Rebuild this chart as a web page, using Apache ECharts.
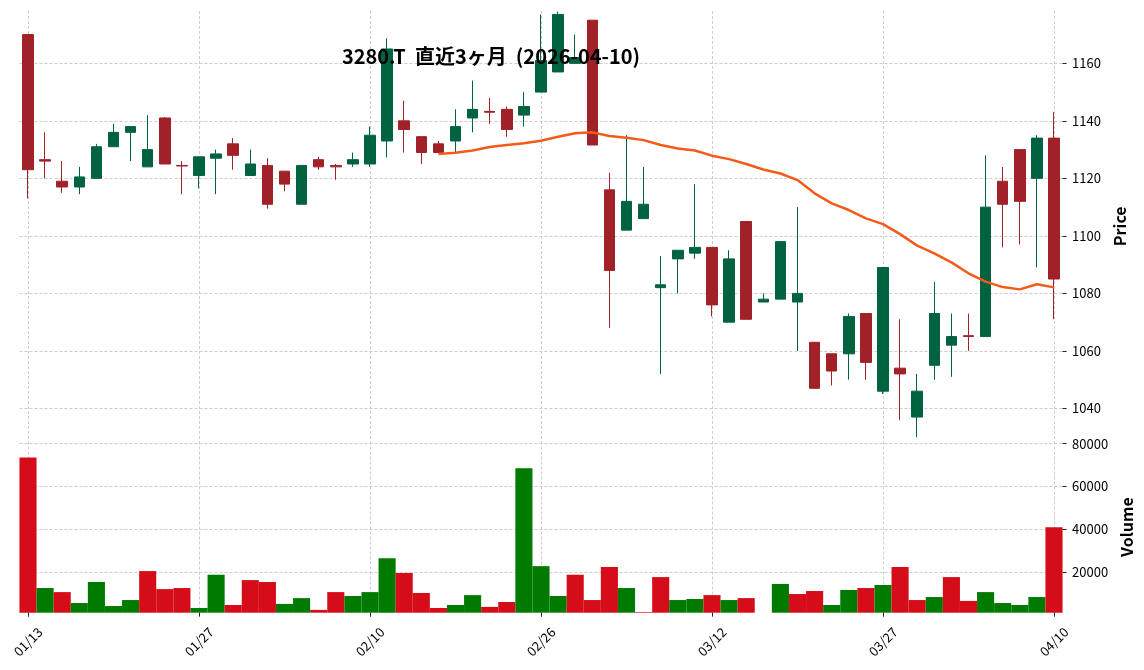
<!DOCTYPE html>
<html>
<head>
<meta charset="utf-8">
<script src="https://cdn.jsdelivr.net/npm/echarts@6/dist/echarts.min.js"></script>
<style>
  html, body { margin: 0; padding: 0; background: #fff; }
  #chart { width: 1144px; height: 670px; }
</style>
</head>
<body>
<div id="chart"></div>
<script>
// 日付（営業日）
const dates = [
  '01/13','01/14','01/15','01/16','01/19','01/20','01/21','01/22','01/23','01/26',
  '01/27','01/28','01/29','01/30','02/02','02/03','02/04','02/05','02/06','02/09',
  '02/10','02/12','02/13','02/16','02/17','02/18','02/19','02/20','02/24','02/25',
  '02/26','02/27','03/02','03/03','03/04','03/05','03/06','03/09','03/10','03/11',
  '03/12','03/13','03/16','03/17','03/18','03/19','03/23','03/24','03/25','03/26',
  '03/27','03/30','03/31','04/01','04/02','04/03','04/06','04/07','04/08','04/09',
  '04/10'
];
const opens = [
  1170, 1126.5, 1119, 1117, 1120, 1131, 1136, 1124, 1141, 1124.5,
  1121, 1127, 1132, 1121, 1124.5, 1122.5, 1111, 1126.5, 1124.5, 1125,
  1125, 1133, 1140, 1134.5, 1132, 1133, 1141, 1143.3, 1144, 1142,
  1150, 1157, 1160, 1175, 1116, 1102, 1106, 1082, 1092, 1094,
  1096, 1070, 1105, 1077, 1078, 1077, 1063, 1059, 1059, 1073,
  1046, 1054, 1037, 1055, 1062, 1065.3, 1065, 1119, 1130, 1120,
  1134
];
const closes = [
  1123, 1126, 1117, 1120.5, 1131, 1136, 1138, 1130, 1125, 1124.3,
  1127.5, 1128.5, 1128, 1125, 1111, 1118, 1124.5, 1124, 1124, 1126.5,
  1135, 1165, 1137, 1129, 1129, 1138, 1144, 1143, 1137, 1145,
  1161, 1177, 1162, 1131.6, 1088, 1112, 1111, 1083, 1095, 1096,
  1076, 1092, 1071, 1078, 1098, 1080, 1047, 1053, 1072, 1056,
  1089, 1052, 1046, 1073, 1065, 1065, 1110, 1111, 1112, 1134,
  1085
];
const lows = [
  1113, 1120, 1115, 1114.5, 1120, 1131, 1126, 1124, 1125, 1114.5,
  1116.5, 1114.5, 1123, 1121, 1109.5, 1115.5, 1111, 1123, 1119.5, 1124,
  1124, 1127.3, 1129, 1125, 1129, 1129, 1136, 1139, 1134.5, 1138,
  1150, 1157, 1160, 1131.6, 1068, 1102, 1106, 1052, 1080, 1092,
  1072, 1070, 1071, 1077, 1078, 1060, 1047, 1048, 1050, 1050,
  1045, 1036, 1030, 1050, 1051, 1060, 1065, 1096, 1097, 1089,
  1071
];
const highs = [
  1170, 1136, 1126, 1124, 1132, 1139, 1138, 1142, 1141.3, 1126,
  1127.5, 1130, 1134, 1130, 1127, 1122.5, 1124.5, 1127.5, 1125, 1129,
  1138, 1168.7, 1147, 1134.5, 1133, 1144, 1154, 1148, 1145, 1150,
  1177, 1178, 1170, 1175, 1122, 1135, 1124, 1093, 1095, 1118,
  1096, 1095, 1105, 1080, 1098, 1110, 1063, 1059, 1073, 1073,
  1089, 1071, 1052, 1084, 1073, 1073, 1128, 1124, 1130, 1135,
  1143
];
// 25日移動平均
const ma25 = [
  null, null, null, null, null, null, null, null, null, null,
  null, null, null, null, null, null, null, null, null, null,
  null, null, null, null, 1128.5, 1128.9, 1129.7, 1130.9, 1131.6, 1132.2,
  1133.1, 1134.5, 1135.7, 1136, 1134.7, 1134.1, 1133.3, 1131.6, 1130.4, 1129.7,
  1127.9, 1126.7, 1125, 1123.1, 1121.7, 1119.4, 1114.8, 1111.3, 1109, 1106.1,
  1104.1, 1100.6, 1096.6, 1093.9, 1090.8, 1087, 1084.1, 1082.2, 1081.4, 1083.2,
  1082.1
];
const volumes = [
  73600, 12700, 10800, 5700, 15500, 4300, 7100, 20600, 12200, 12700,
  3400, 18900, 4800, 16400, 15500, 5300, 8000, 2500, 10800, 9000,
  10800, 26600, 19700, 10400, 3400, 4800, 9400, 3900, 6200, 68500,
  22900, 9000, 18900, 7100, 22500, 12700, 1500, 17800, 7100, 7600,
  9400, 7100, 8000, 1200, 14600, 9900, 11300, 4800, 11800, 12700,
  14100, 22500, 7100, 8500, 17800, 6700, 10800, 5700, 4800, 8500,
  41000
];
const priceTicks = [1040, 1060, 1080, 1100, 1120, 1140, 1160];
const volumeTicks = [20000, 40000, 60000, 80000];

const titleText = '3280.T  直近3ヶ月  (2026-04-10)';
const FONT = '"Noto Sans CJK JP", "Noto Sans", sans-serif';

const UP = '#006340', DOWN = '#a02128';
const VUP = '#007a00', VDOWN = '#d50d18';

const candleData = dates.map((d, i) => [opens[i], closes[i], lows[i], highs[i]]);
// 出来高の色は前日終値との比較
const volumeData = volumes.map((v, i) => {
  const up = i === 0 ? opens[0] < closes[0] : closes[i - 1] < closes[i];
  return { value: v, itemStyle: { color: up ? VUP : VDOWN } };
});

const gridLine = { show: true, lineStyle: { color: '#c0c0c0', width: 0.8, type: [3, 2] } };
const plain = (v) => String(v);

const chart = echarts.init(document.getElementById('chart'));
chart.setOption({
  animation: false,
  backgroundColor: '#fff',
  textStyle: { fontFamily: FONT },
  title: {
    text: titleText,
    left: 486, top: 41, textAlign: 'center',
    textStyle: { fontFamily: FONT, fontSize: 20, fontWeight: 'bold', color: '#000' }
  },
  grid: [
    { left: 19.45, right: 81.45, top: 11, height: 430.5 },
    { left: 19.45, right: 81.45, top: 441.5, height: 171.2 }
  ],
  xAxis: [
    {
      type: 'category', gridIndex: 0, data: dates, boundaryGap: true,
      axisLine: { show: false }, axisTick: { show: false }, axisLabel: { show: false },
      splitLine: Object.assign({ interval: 9, alignWithLabel: true }, gridLine)
    },
    {
      type: 'category', gridIndex: 1, data: dates, boundaryGap: true,
      axisLine: { show: false },
      axisTick: { show: true, interval: 9, alignWithLabel: true, length: 4, lineStyle: { color: '#222' } },
      axisLabel: {
        interval: 9, rotate: 45, align: 'center', verticalAlign: 'middle', margin: 29,
        fontSize: 13, color: '#000', fontFamily: FONT
      },
      splitLine: Object.assign({ interval: 9, alignWithLabel: true }, gridLine)
    }
  ],
  yAxis: [
    {
      type: 'value', gridIndex: 0, position: 'right', min: 1028.5, max: 1178.2,
      axisLine: { show: false },
      axisTick: { show: true, length: 4, customValues: priceTicks, lineStyle: { color: '#222' } },
      axisLabel: { customValues: priceTicks, formatter: plain, margin: 9.5, fontSize: 13, color: '#000', fontFamily: FONT },
      splitLine: gridLine,
      name: 'Price', nameLocation: 'middle', nameGap: 41,
      nameTextStyle: { fontSize: 16, fontWeight: 'bold', color: '#000', fontFamily: FONT }
    },
    {
      type: 'value', gridIndex: 1, position: 'right', min: 1200, max: 81000,
      axisLine: { show: false },
      axisTick: { show: true, length: 4, customValues: volumeTicks, lineStyle: { color: '#222' } },
      axisLabel: { customValues: volumeTicks, formatter: plain, margin: 9.5, fontSize: 13, color: '#000', fontFamily: FONT },
      splitLine: gridLine,
      name: 'Volume', nameLocation: 'middle', nameGap: 46,
      nameTextStyle: { fontSize: 16, fontWeight: 'bold', color: '#000', fontFamily: FONT }
    }
  ],
  series: [
    {
      type: 'candlestick', xAxisIndex: 0, yAxisIndex: 0, data: candleData, barWidth: 11,
      itemStyle: { color: UP, color0: DOWN, borderColor: UP, borderColor0: DOWN, borderWidth: 1 }
    },
    {
      type: 'line', xAxisIndex: 0, yAxisIndex: 0, data: ma25, showSymbol: false,
      lineStyle: { color: '#f45b18', width: 2.5 }, z: 5
    },
    {
      type: 'bar', xAxisIndex: 1, yAxisIndex: 1, data: volumeData,
      barCategoryGap: '0%', barWidth: '100%'
    }
  ]
});
</script>
</body>
</html>
